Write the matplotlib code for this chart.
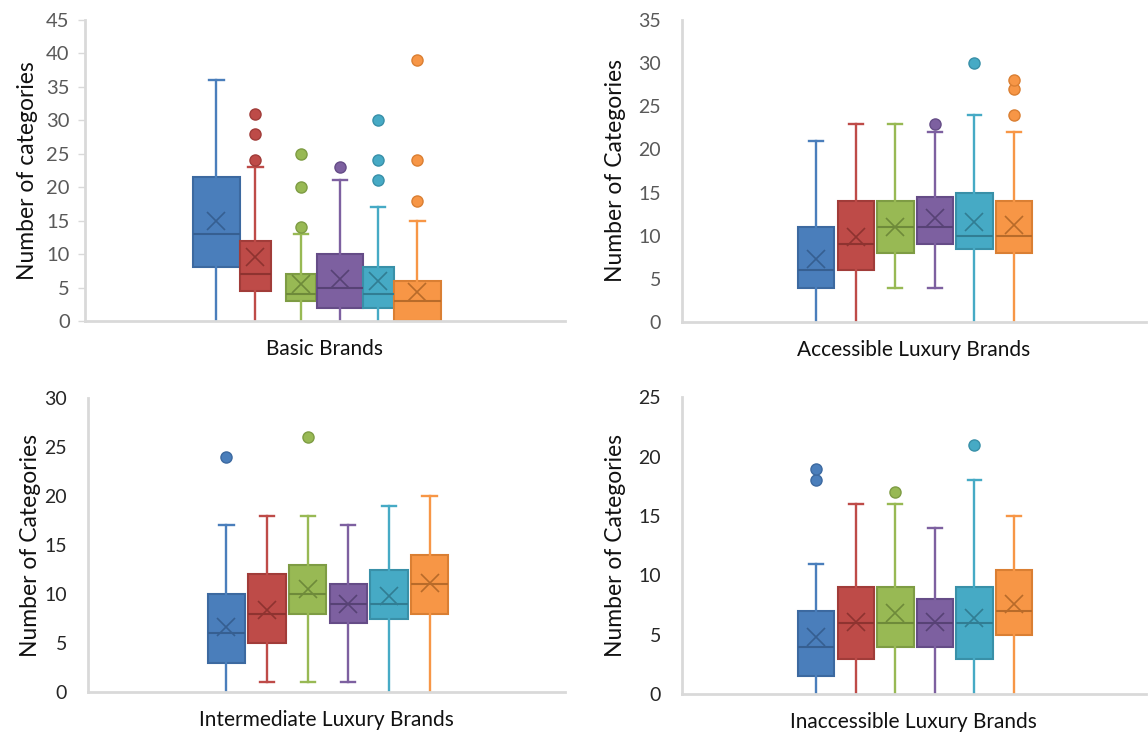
import matplotlib
matplotlib.use("Agg")
import matplotlib.pyplot as plt

plt.rcParams['font.family'] = ['Lato', 'DejaVu Sans']

# box colours (fill, edge/line, dark for median + mean)
fills = ['#4A7EBB', '#BE4B48', '#98B954', '#7D60A0', '#46AAC5', '#F79646']
edges = ['#3C69A0', '#A13C39', '#7E9C44', '#654C87', '#3990A8', '#DA7F33']
darks = ['#365F91', '#8E3330', '#6E8A3A', '#574275', '#317D93', '#B86B2A']

# ---- data: [whislo, q1, med, q3, whishi], mean, outliers
basic_stats = [[0, 8, 13, 21.5, 36], [0, 4.5, 7, 12, 23], [0, 3, 4, 7, 13],
               [0, 2, 5, 10, 21], [0, 2, 4, 8, 17], [0, 0, 3, 6, 15]]
basic_mean = [15, 9.5, 5.5, 6.2, 6, 4.3]
basic_fliers = [[], [24, 28, 31], [14, 20, 25], [23], [21, 24, 30], [18, 24, 39]]

access_stats = [[0, 4, 6, 11, 21], [0, 6, 9, 14, 23], [4, 8, 11, 14, 23],
                [4, 9, 11, 14.5, 22], [0, 8.5, 10, 15, 24], [0, 8, 10, 14, 22]]
access_mean = [7.3, 9.8, 11, 12, 11.6, 11.2]
access_fliers = [[], [], [], [23], [30], [24, 27, 28]]

inter_stats = [[0, 3, 6, 10, 17], [1, 5, 8, 12, 18], [1, 8, 10, 13, 18],
               [1, 7, 9, 11, 17], [0, 7.5, 9, 12.5, 19], [0, 8, 11, 14, 20]]
inter_mean = [6.6, 8.4, 10.5, 9, 9.8, 11.1]
inter_fliers = [[24], [], [26], [], [], []]

inacc_stats = [[0, 1.5, 4, 7, 11], [0, 3, 6, 9, 16], [0, 4, 6, 9, 16],
               [0, 4, 6, 8, 14], [0, 3, 6, 9, 18], [0, 5, 7, 10.5, 15]]
inacc_mean = [4.8, 6.1, 6.8, 6.1, 6.4, 7.6]
inacc_fliers = [[18, 19], [], [17], [], [21], []]

panels = [
    ("Basic Brands", "Number of categories", basic_stats, basic_mean, basic_fliers, 45),
    ("Accessible Luxury Brands", "Number of Categories", access_stats, access_mean, access_fliers, 35),
    ("Intermediate Luxury Brands", "Number of Categories", inter_stats, inter_mean, inter_fliers, 30),
    ("Inaccessible Luxury Brands", "Number of Categories", inacc_stats, inacc_mean, inacc_fliers, 25),
]

# axes rectangles in figure fraction
rects = [
    [0.074, 0.5645, 0.418, 0.4085],
    [0.594, 0.563, 0.404, 0.410],
    [0.0767, 0.061, 0.4155, 0.399],
    [0.594, 0.058, 0.404, 0.403],
]

# horizontal layout of boxes (axes fraction)
basic_pos = [0.274, 0.355, 0.45, 0.531, 0.611, 0.693]
basic_w = [0.098, 0.065, 0.0625, 0.096, 0.065, 0.098]
even_pos = [0.29 + 0.0852 * i for i in range(6)]
even_w = [0.078] * 6

fig = plt.figure(figsize=(11.48, 7.37), dpi=100)

for k, (xlab, ylab, stats, means, fliers, ymax) in enumerate(panels):
    ax = fig.add_axes(rects[k])
    pos = basic_pos if k == 0 else even_pos
    wid = basic_w if k == 0 else even_w
    for i in range(6):
        s = stats[i]
        d = dict(whislo=s[0], q1=s[1], med=s[2], q3=s[3], whishi=s[4],
                 mean=means[i], fliers=fliers[i])
        parts = ax.bxp([d], positions=[pos[i]], widths=[wid[i]], patch_artist=True,
                       showmeans=True, showfliers=True, capwidths=[0.03],
                       boxprops=dict(facecolor=fills[i], edgecolor=edges[i], linewidth=1.5),
                       whiskerprops=dict(color=fills[i], linewidth=1.7),
                       capprops=dict(color=fills[i], linewidth=1.7),
                       medianprops=dict(color=darks[i], linewidth=1.5),
                       meanprops=dict(marker='x', markersize=13, markeredgewidth=1.2,
                                      markeredgecolor=darks[i]),
                       flierprops=dict(marker='o', markersize=8, markerfacecolor=fills[i],
                                       markeredgecolor=edges[i], markeredgewidth=1))
        # lower cap sits on the axis line when the whisker reaches 0
        if s[0] == 0:
            parts['caps'][0].set_visible(False)
    ax.set_xlim(0, 1)
    ax.set_ylim(0, ymax)
    ax.set_yticks(range(0, ymax + 1, 5))
    ax.set_xticks([])
    for sp in ['top', 'right']:
        ax.spines[sp].set_visible(False)
    for sp in ['left', 'bottom']:
        ax.spines[sp].set_color('#D9D9D9')
        ax.spines[sp].set_linewidth(2)
        ax.spines[sp].set_zorder(5)
    lab_col = '#595959' if k < 2 else '#262626'
    if k == 0:
        ax.tick_params(axis='y', length=5, width=1, color='#D9D9D9', pad=6,
                       labelsize=14.5, labelcolor=lab_col)
    else:
        ax.tick_params(axis='y', length=0, pad=15, labelsize=14, labelcolor=lab_col)
    ax.set_xlabel(xlab, fontsize=15, color='#111111', labelpad=13)
    ax.set_ylabel(ylab, fontsize=16.5, color='#111111')
    ax.yaxis.set_label_coords(-0.098 if k in (0, 2) else -0.12, 0.5)

plt.savefig("out.png", dpi=100)
